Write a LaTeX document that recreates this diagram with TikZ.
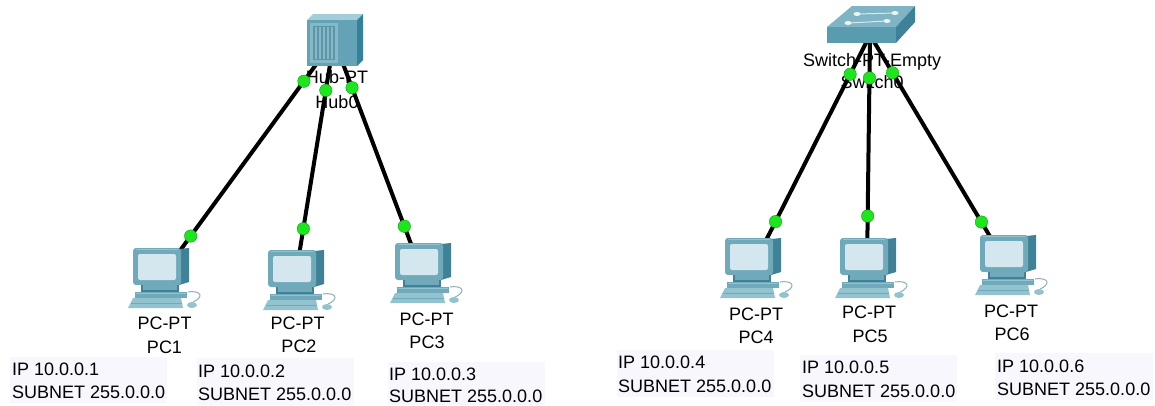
\documentclass[tikz,border=0pt]{standalone}
\usepackage{fontspec}
\setmainfont{Liberation Sans}
\usetikzlibrary{calc}
\definecolor{pcmid}{HTML}{6FA9BA}
\definecolor{pcdark}{HTML}{3F8297}
\definecolor{pcscreen}{HTML}{D4E6EE}
\definecolor{pclight}{HTML}{94C3D0}
\definecolor{hubfront}{HTML}{64A2B5}
\definecolor{hubpanel}{HTML}{86B9C8}
\definecolor{hubside}{HTML}{35809A}
\definecolor{hubtop}{HTML}{A3CDD9}
\definecolor{swtop}{HTML}{7EB4C3}
\definecolor{swfront}{HTML}{5A9CAF}
\definecolor{swside}{HTML}{3D8298}
\definecolor{ipbg}{HTML}{F7F7FD}
\definecolor{linkgreen}{HTML}{1EE61E}
\tikzset{
  link/.style={line width=4pt, black},
  portdot/.style={circle, fill=linkgreen, draw=green!55!black, line width=0.3pt, inner sep=0pt, minimum size=12.5pt},
  anchorpt/.style={inner sep=0pt, minimum size=0pt},
  lbl/.style={font=\fontsize{18}{22}\selectfont, inner sep=0pt, anchor=base},
  iptext/.style={font=\fontsize{18}{22}\selectfont, inner sep=0pt, anchor=base west},
  ipbox/.style={fill=ipbg, draw=none, anchor=north west, inner sep=0pt},
  pcicon/.pic={
    \begin{scope}[shift={(-27,-30)}]
      \fill[pcdark] (46,1) -- (56,0) -- (56,34) -- (46,37) -- cycle;
      \fill[pcmid, rounded corners=3pt] (0,0) rectangle (48,37);
      \fill[pcscreen, rounded corners=2pt] (5,6) rectangle (43,32);
      \draw[pclight, line width=1pt] (3,1.5) -- (45,1.5);
      \fill[pcdark] (8,37) rectangle (46,44);
      \fill[pcmid] (10,37) rectangle (44,42);
      \fill[pcmid] (2,44) rectangle (54,50);
      \draw[pclight, line width=1pt] (3,45) -- (53,45);
      \fill[pclight] (0,50) -- (48,50) -- (50,60) -- (-5,60) -- cycle;
      \draw[pcmid, line width=0.8pt] (-2,55) -- (49,55);
      \draw[pclight!70!gray, line width=1pt] (55,44) .. controls (70,42) and (70,50) .. (60,54);
      \fill[pclight] (59,57) ellipse [x radius=5pt, y radius=3pt];
    \end{scope}
  },
  hubicon/.pic={
    \fill[hubtop] (-27,-20) -- (-21,-26) -- (29,-26) -- (23,-20) -- cycle;
    \fill[hubside] (23,-20) -- (29,-26) -- (29,20) -- (23,26) -- cycle;
    \fill[hubfront] (-27,-20) rectangle (23,26);
    \fill[hubpanel] (-24,-17) rectangle (4,23);
    \fill[hubfront!92!black] (-21,-14) rectangle (1,20);
    \foreach \i in {-19,-15,-11,-7,-3} {
      \fill[hubpanel] (\i,-13) rectangle (\i+2,19);
    }
  },
  swicon/.pic={
    \fill[swtop] (-43,-8) -- (-18,-29) -- (45,-29) -- (26,-8) -- cycle;
    \fill[swside] (26,-8) -- (45,-29) -- (45,-13) -- (26,8) -- cycle;
    \fill[swfront] (-43,-8) rectangle (26,8);
    \draw[white!70!swtop, line width=1pt] (-13,-21) -- (25,-22);
    \draw[white!70!swtop, line width=1pt] (-22,-12) -- (17,-14);
    \foreach \p in {(-13,-21),(25,-22),(-22,-12),(17,-14)} {
      \fill[white!85!swtop] \p ellipse [x radius=3.5pt, y radius=2pt];
    }
  },
}
\begin{document}
\begin{tikzpicture}[x=1pt, y=-1pt]
  \fill[white] (0,0) rectangle (1155,405);
  \useasboundingbox (0,0) rectangle (1155,405);

  % connection points
  \node[anchorpt] (hub) at (334,40) {};
  \node[anchorpt] (sw) at (870,35) {};
  \node[anchorpt] (pc1) at (160,278) {};
  \node[anchorpt] (pc2) at (295,280) {};
  \node[anchorpt] (pc3) at (422,273) {};
  \node[anchorpt] (pc4) at (752,268) {};
  \node[anchorpt] (pc5) at (867,268) {};
  \node[anchorpt] (pc6) at (1007,265) {};

  % links
  \draw[link] (hub) -- (pc1);
  \draw[link] (hub) -- (pc2);
  \draw[link] (hub) -- (pc3);
  \draw[link] (sw) -- (pc4);
  \draw[link] (sw) -- (pc5);
  \draw[link] (sw) -- (pc6);

  % devices
  \pic at (hub) {hubicon};
  \pic at (sw) {swicon};
  \pic at (pc1) {pcicon};
  \pic at (pc2) {pcicon};
  \pic at (pc3) {pcicon};
  \pic at (pc4) {pcicon};
  \pic at (pc5) {pcicon};
  \pic at (pc6) {pcicon};

  % device labels
  \node[lbl] (hubtype) at (337,83) {Hub-PT};
  \node[lbl] (hubname) at (337,108) {Hub0};
  \node[lbl] (swtype) at (872,66) {Switch-PT-Empty};
  \node[lbl] (swname) at (872,88) {Switch0};

  \node[lbl] (pc1type) at (164.5,329) {PC-PT};
  \node[lbl] (pc1name) at (164.5,353) {PC1};
  \node[lbl] (pc2type) at (297.5,329) {PC-PT};
  \node[lbl] (pc2name) at (299,352) {PC2};
  \node[lbl] (pc3type) at (426.5,325) {PC-PT};
  \node[lbl] (pc3name) at (427,348) {PC3};
  \node[lbl] (pc4type) at (756,320) {PC-PT};
  \node[lbl] (pc4name) at (756,343) {PC4};
  \node[lbl] (pc5type) at (869,318) {PC-PT};
  \node[lbl] (pc5name) at (870,342) {PC5};
  \node[lbl] (pc6type) at (1011,317) {PC-PT};
  \node[lbl] (pc6name) at (1012,340) {PC6};

  % IP boxes
  \node[ipbox, minimum width=157pt, minimum height=46pt] (ip1) at (10,357) {};
  \node[iptext] (ip1a) at (12,375) {IP 10.0.0.1};
  \node[iptext] (ip1b) at (12,398) {SUBNET 255.0.0.0};
  \node[ipbox, minimum width=157pt, minimum height=47pt] (ip2) at (197,358) {};
  \node[iptext] (ip2a) at (198,377) {IP 10.0.0.2};
  \node[iptext] (ip2b) at (198,400) {SUBNET 255.0.0.0};
  \node[ipbox, minimum width=157pt, minimum height=43pt] (ip3) at (388,362) {};
  \node[iptext] (ip3a) at (389,380) {IP 10.0.0.3};
  \node[iptext] (ip3b) at (389,402) {SUBNET 255.0.0.0};
  \node[ipbox, minimum width=157pt, minimum height=47pt] (ip4) at (617,350) {};
  \node[iptext] (ip4a) at (618,368) {IP 10.0.0.4};
  \node[iptext] (ip4b) at (618,392) {SUBNET 255.0.0.0};
  \node[ipbox, minimum width=157pt, minimum height=47pt] (ip5) at (800,355) {};
  \node[iptext] (ip5a) at (802,373) {IP 10.0.0.5};
  \node[iptext] (ip5b) at (802,397) {SUBNET 255.0.0.0};
  \node[ipbox, minimum width=158pt, minimum height=47pt] (ip6) at (995,353) {};
  \node[iptext] (ip6a) at (997,372) {IP 10.0.0.6};
  \node[iptext] (ip6b) at (997,395) {SUBNET 255.0.0.0};

  % port dots
  \node[portdot] (d1h) at ($(hub)!51pt!(pc1)$) {};
  \node[portdot] (d2h) at ($(hub)!51pt!(pc2)$) {};
  \node[portdot] (d3h) at ($(hub)!51pt!(pc3)$) {};
  \node[portdot] (d1p) at ($(pc1)!52pt!(hub)$) {};
  \node[portdot] (d2p) at ($(pc2)!52pt!(hub)$) {};
  \node[portdot] (d3p) at ($(pc3)!50pt!(hub)$) {};
  \node[portdot] (d4s) at ($(sw)!44pt!(pc4)$) {};
  \node[portdot] (d5s) at ($(sw)!43pt!(pc5)$) {};
  \node[portdot] (d6s) at ($(sw)!44pt!(pc6)$) {};
  \node[portdot] (d4p) at ($(pc4)!52pt!(sw)$) {};
  \node[portdot] (d5p) at ($(pc5)!52pt!(sw)$) {};
  \node[portdot] (d6p) at ($(pc6)!50pt!(sw)$) {};
\end{tikzpicture}
\end{document}
